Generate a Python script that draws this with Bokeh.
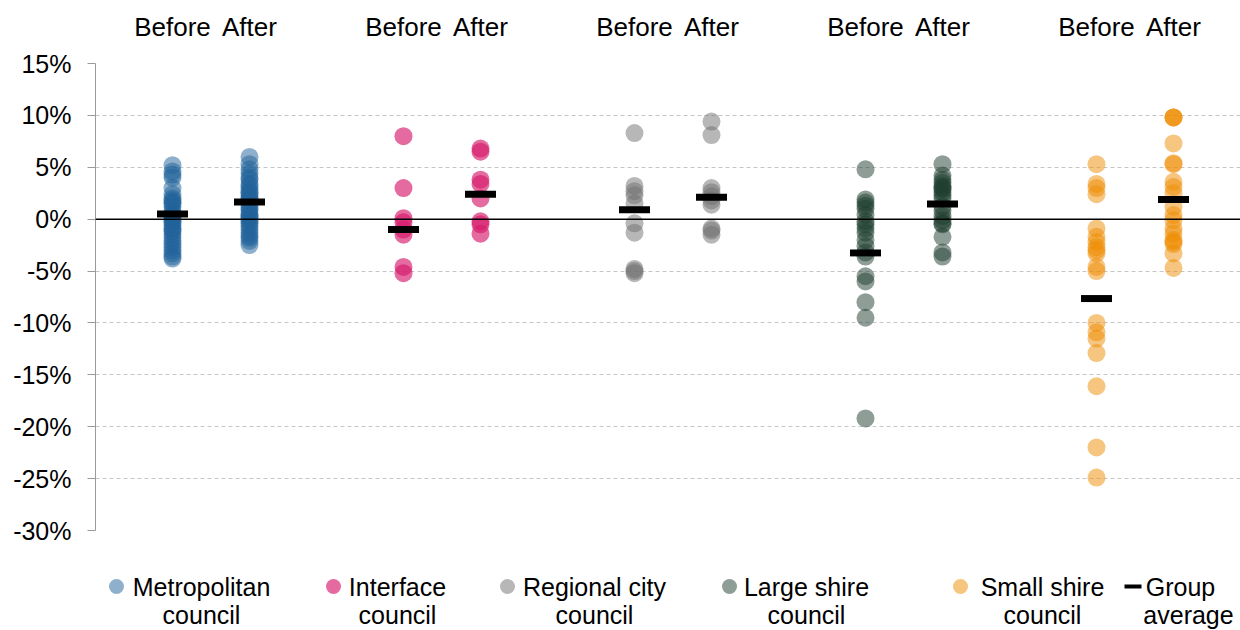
from bokeh.plotting import figure
from bokeh.models import (Range1d, FixedTicker, PrintfTickFormatter, LinearAxis, Span)
from bokeh.layouts import column
from bokeh.embed import file_html
from bokeh.resources import INLINE
from bokeh.core.properties import value

# ---------------- data ----------------
groups = ["Metropolitan council", "Interface council", "Regional city council",
          "Large shire council", "Small shire council"]
periods = ["Before", "After"]

metro_before = [5.2, 4.6, 4.3, 4.0, 3.0, 2.4, 2.0, 1.8, 1.6, 1.5, 1.2, 0.8, 0.5, 0.3, 0.2, 0.0,
                -0.2, -0.3, -0.6, -0.9, -1.0, -1.2, -1.5, -1.8, -2.1, -2.4, -2.7, -3.0, -3.3, -3.6, -3.8]
metro_after = [6.0, 5.3, 4.8, 4.4, 4.0, 3.8, 3.4, 3.2, 2.9, 2.6, 2.5, 2.2, 2.0, 1.8, 1.5, 1.2, 1.0,
               0.8, 0.5, 0.3, 0.2, 0.0, -0.2, -0.4, -0.7, -1.0, -1.3, -1.6, -1.8, -2.1, -2.5]
interface_before = [8.0, 3.0, 0.1, -0.3, -1.0, -1.5, -4.6, -5.2]
interface_after = [6.8, 6.5, 3.8, 3.4, 2.0, -0.2, -0.5, -1.4]
regional_before = [8.3, 3.2, 2.7, 2.3, 1.5, -0.4, -1.3, -4.8, -5.0, -5.2]
regional_after = [9.4, 8.1, 3.0, 2.6, 2.2, 1.8, 1.4, -0.9, -1.1, -1.5]
large_before = [4.8, 1.9, 1.6, 1.3, 1.0, 0.4, -0.2, -0.5, -0.9, -1.3, -2.0, -2.6, -3.2, -3.6,
                -5.5, -6.0, -8.0, -9.5, -19.2]
large_after = [5.3, 4.2, 3.8, 3.5, 3.2, 3.0, 2.9, 2.6, 2.3, 2.0, 1.2, 0.8, 0.3, -0.1, -0.4,
               -0.5, -1.7, -3.2, -3.6]
small_before = [5.3, 3.4, 3.0, 2.4, -0.9, -1.7, -2.2, -2.7, -3.0, -3.3, -4.6, -5.0, -10.0,
                -10.9, -11.5, -12.9, -16.1, -22.0, -24.9]
small_after = [9.8, 9.8, 9.8, 7.3, 5.4, 5.3, 3.6, 3.1, 2.5, 1.2, 0.4, -0.1, -0.9, -1.4, -2.0,
               -2.2, -2.4, -3.3, -4.7]

average_before = [0.5, -1.0, 0.9, -3.25, -7.65]
average_after = [1.65, 2.4, 2.1, 1.45, 1.9]

y_ticks = [15, 10, 5, 0, -5, -10, -15, -20, -25, -30]

# ---------------- style ----------------
colors = ["#1f6199", "#d51a6b", "#6f6f6f", "#1e3d30", "#ed8b00"]
alphas = [0.5, 0.65, 0.5, 0.5, 0.5]
legend_labels = [("Metropolitan", "council"), ("Interface", "council"), ("Regional city", "council"),
                 ("Large shire", "council"), ("Small shire", "council")]
FONT = "Liberation Sans"
FS = "26px"
TFS = "25px"
LFS = "25px"

series_before = [metro_before, interface_before, regional_before, large_before, small_before]
series_after = [metro_after, interface_after, regional_after, large_after, small_after]

W = 1240
LEFT = 95
p = figure(width=W, height=545, output_backend="svg", toolbar_location=None,
           x_axis_location=None, y_axis_location="left",
           x_range=Range1d(0, (W - LEFT) / 77), y_range=Range1d(-30, 15),
           min_border_left=LEFT, min_border_right=0, min_border_top=63, min_border_bottom=15)
p.outline_line_color = None
p.xgrid.visible = False
p.ygrid.ticker = FixedTicker(ticks=y_ticks)
p.ygrid.grid_line_color = "#c6c6c6"
p.ygrid.grid_line_dash = "4 3"
p.ygrid.grid_line_width = 1

ya = p.yaxis[0]
ya.ticker = FixedTicker(ticks=y_ticks)
ya.formatter = PrintfTickFormatter(format="%d%%")
ya.axis_line_color = "#9a9a9a"
ya.major_tick_line_color = "#9a9a9a"
ya.major_tick_out = 8
ya.major_tick_in = 0
ya.minor_tick_line_color = None
ya.major_label_standoff = 16
ya.major_label_text_font = FONT
ya.major_label_text_font_size = TFS
ya.major_label_text_color = "black"

# top axis with Before / After labels
xpos = []
xlab = {}
for gi in range(len(groups)):
    for pi, per in enumerate(periods):
        xv = gi * 3 + 1 + pi
        xpos.append(xv)
        xlab[xv] = per
top = LinearAxis(ticker=FixedTicker(ticks=xpos), major_label_overrides=xlab)
top.axis_line_color = None
top.major_tick_line_color = None
top.major_tick_out = 0
top.major_tick_in = 0
top.minor_tick_line_color = None
top.major_label_standoff = 22
top.major_label_text_font = FONT
top.major_label_text_font_size = FS
top.major_label_text_color = "black"
p.add_layout(top, "above")

p.add_layout(Span(location=0, dimension="width", line_color="black", line_width=1.5))

for gi in range(len(groups)):
    for pi, vals in enumerate([series_before[gi], series_after[gi]]):
        xs = [gi * 3 + 1 + pi] * len(vals)
        p.scatter(xs, vals, size=18, marker="circle", fill_color=colors[gi],
                  fill_alpha=alphas[gi], line_color=None)

avg_x = [gi * 3 + 1 for gi in range(len(groups))] + [gi * 3 + 2 for gi in range(len(groups))]
avg_y = average_before + average_after
p.rect(avg_x, avg_y, width=31, height=7, width_units="screen", height_units="screen",
       fill_color="black", line_color=None)

# ---------------- legend (separate strip, data units = page pixels) ----------------
lg = figure(width=W, height=85, output_backend="svg", toolbar_location=None,
            x_range=Range1d(LEFT, W), y_range=Range1d(630, 545),
            min_border_left=LEFT, min_border_right=0, min_border_top=0, min_border_bottom=0,
            x_axis_location=None, y_axis_location=None)
lg.outline_line_color = None
lg.grid.visible = False
marker_x = [116, 333, 507, 729, 960]
text_cx = [201, 397, 594, 806, 1042]
row1, row2 = 586, 614
for i in range(len(groups)):
    lg.scatter([marker_x[i]], [row1], size=15, marker="circle", fill_color=colors[i],
               fill_alpha=alphas[i], line_color=None)
    lg.text([text_cx[i]], [row1], text=[legend_labels[i][0]], text_align="center",
            text_baseline="middle", text_font=value(FONT), text_font_size=LFS, text_color="black")
    lg.text([text_cx[i]], [row2], text=[legend_labels[i][1]], text_align="center",
            text_baseline="middle", text_font=value(FONT), text_font_size=LFS, text_color="black")
lg.segment([1124], [row1], [1141], [row1], line_color="black", line_width=4)
lg.text([1180], [row1], text=["Group"], text_align="center", text_baseline="middle",
        text_font=value(FONT), text_font_size=LFS, text_color="black")
lg.text([1188], [row2], text=["average"], text_align="center", text_baseline="middle",
        text_font=value(FONT), text_font_size=LFS, text_color="black")

layout = column(p, lg, spacing=0)
open("out.html", "w").write(file_html(layout, INLINE))
